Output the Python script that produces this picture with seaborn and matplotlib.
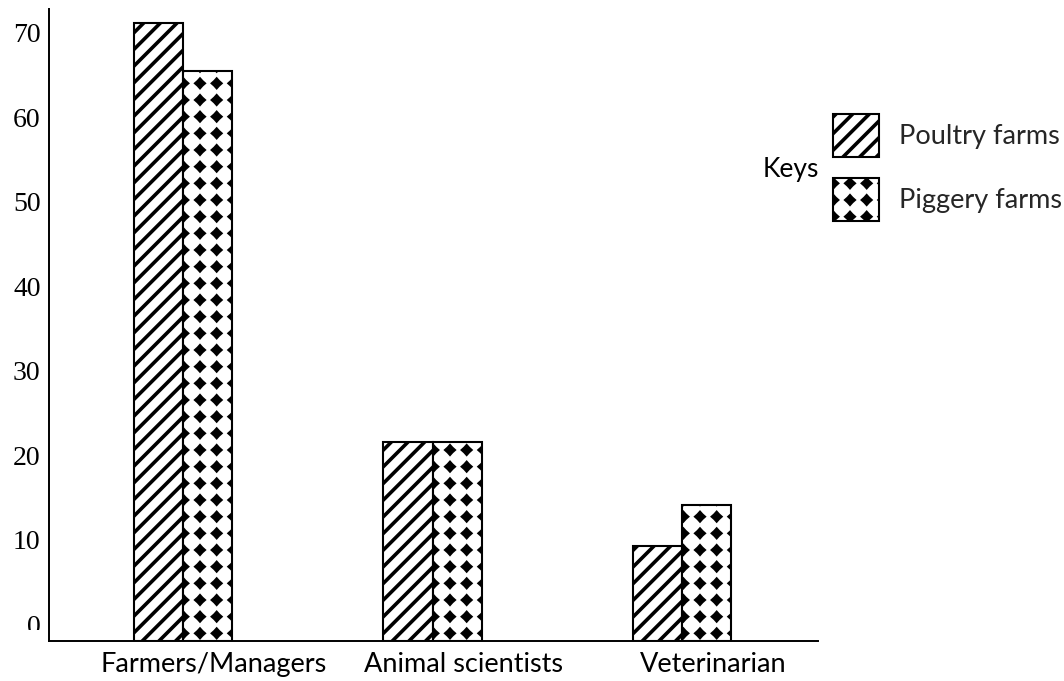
import numpy as np
import pandas as pd
import matplotlib
matplotlib.use("Agg")
import matplotlib.pyplot as plt
import matplotlib.hatch as mhatch
from matplotlib.path import Path
from matplotlib.patches import Patch, Rectangle
from matplotlib.transforms import ScaledTranslation
import seaborn as sns

# ---- data -------------------------------------------------------------
occupations = ["Farmers/Managers", "Animal scientists", "Veterinarian"]
poultry_farms = [71.2, 21.6, 9.3]
piggery_farms = [65.5, 21.6, 14.1]
series_names = ["Poultry farms", "Piggery farms"]
y_ticks = [0, 10, 20, 30, 40, 50, 60, 70]

df = pd.DataFrame({
    "occupation": occupations * 2,
    "farm": [series_names[0]] * len(occupations) + [series_names[1]] * len(occupations),
    "value": poultry_farms + piggery_farms,
})


# ---- custom hatch: filled four-point stars on a square grid ('*') -------
class StarGrid(mhatch.HatchPatternBase):
    def __init__(self, hatch, density):
        self.num_rows = hatch.count("*") * density
        outer, inner = 0.039, 0.026
        idx = np.arange(8)
        ang = idx * np.pi / 4
        rad = np.where(idx % 2 == 0, outer, inner)
        pts = np.column_stack([rad * np.cos(ang), rad * np.sin(ang)])
        self.shape_vertices = np.vstack([pts, pts[:1]])
        self.shape_codes = np.array(
            [Path.MOVETO] + [Path.LINETO] * 7 + [Path.CLOSEPOLY], dtype=Path.code_type)
        n = self.num_rows + 1
        self.num_vertices = n * n * len(self.shape_vertices) if self.num_rows else 0

    def set_vertices_and_codes(self, vertices, codes):
        step = 1.0 / self.num_rows
        k = len(self.shape_vertices)
        i = 0
        for r in range(self.num_rows + 1):
            for c in range(self.num_rows + 1):
                vertices[i:i + k] = self.shape_vertices + [c * step, r * step]
                codes[i:i + k] = self.shape_codes
                i += k


mhatch._hatch_types = [t for t in mhatch._hatch_types if t is not mhatch.Stars] + [StarGrid]

hatches = ["//", "*"]

# ---- style ------------------------------------------------------------
sns.set_theme(style="white")
plt.rcParams["hatch.linewidth"] = 2.6
plt.rcParams["hatch.color"] = "black"
plt.rcParams["font.family"] = ["Lato", "DejaVu Sans"]

W, H = 1064, 681
fig = plt.figure(figsize=(W / 100, H / 100), dpi=100)
fig.patch.set_facecolor("white")
ax = fig.add_axes([49 / W, 1 - 641 / H, (818 - 49) / W, (641 - 9) / H])

sns.barplot(
    data=df, x="occupation", y="value", hue="farm",
    order=occupations, hue_order=series_names,
    palette=["white", "white"], saturation=1,
    edgecolor="black", linewidth=1.5,
    width=0.393, gap=0, errorbar=None, legend=False, ax=ax,
)

y_bottom, y_top = -1.95, 72.8
ax.set_ylim(y_bottom, y_top)
ax.set_xlim(-0.537, 2.545)

# hatch each series and run the bars down to the axis line
for container, hatch in zip(ax.containers, hatches):
    for bar in container:
        bar.set_hatch(hatch)
        top = bar.get_y() + bar.get_height()
        bar.set_y(y_bottom)
        bar.set_height(top - y_bottom)

# ---- axes -------------------------------------------------------------
for side in ["top", "right"]:
    ax.spines[side].set_visible(False)
for side in ["left", "bottom"]:
    ax.spines[side].set_color("black")
    ax.spines[side].set_linewidth(1.4)

ax.set_xlabel("")
ax.set_ylabel("")
ax.set_yticks(y_ticks)
ax.set_yticklabels([str(t) for t in y_ticks], fontfamily="Liberation Serif",
                   fontsize=20, color="black")
ax.set_xticks(range(len(occupations)))
ax.set_xticklabels(occupations, fontfamily="Lato", fontsize=19.5, color="black")
ax.tick_params(axis="both", length=0)
ax.tick_params(axis="y", pad=6)
ax.tick_params(axis="x", pad=8)

# category captions sit a little to the right of their bar pairs
shift = ScaledTranslation(0.31, 0, fig.dpi_scale_trans)
for lbl in ax.get_xticklabels():
    lbl.set_transform(lbl.get_transform() + shift)

# the lowest label sits partly under the axis line
zero_label = ax.get_yticklabels()[0]
zero_label.set_clip_path(Rectangle((0, 1 - 630 / H), 1, 1, transform=fig.transFigure))

# ---- key --------------------------------------------------------------
handles = [Patch(facecolor="white", edgecolor="black", linewidth=1.5, hatch=h) for h in hatches]
fig.legend(
    handles, series_names, loc="upper left",
    bbox_to_anchor=(833 / W, 1 - 114 / H), frameon=False,
    borderpad=0, borderaxespad=0, handlelength=1.7, handleheight=2.08,
    handletextpad=0.72, labelspacing=0.76,
    prop={"family": "Lato", "size": 19.5},
)
fig.text(763 / W, 1 - 170 / H, "Keys", fontfamily="Lato", fontsize=19,
         va="center", ha="left", color="black")

fig.savefig("out.png", dpi=100, facecolor="white")
